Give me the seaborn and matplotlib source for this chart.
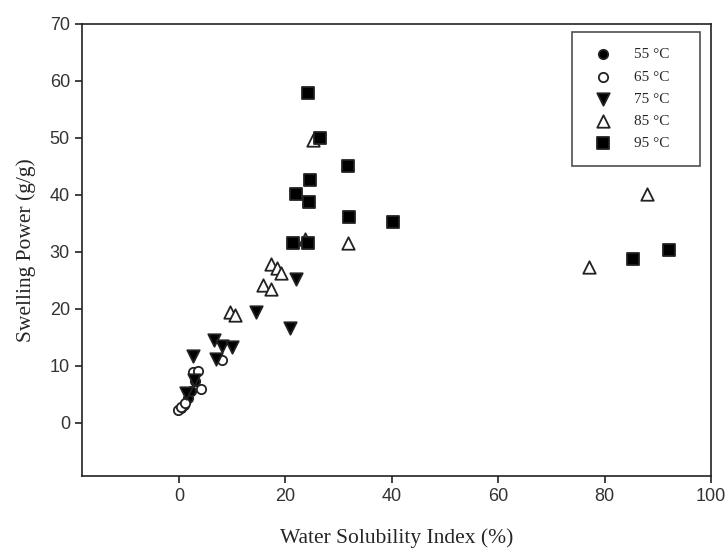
import matplotlib
matplotlib.use("Agg")
import matplotlib.pyplot as plt
import seaborn as sns

# valores (Water Solubility Index %, Swelling Power g/g)
x55 = [0.4, 1.0, 1.6, 2.3, 3.0]
y55 = [2.5, 3.2, 4.3, 5.6, 7.4]

x65 = [-0.2, 0.45, 1.1, 2.6, 3.6, 4.2, 8.0]
y65 = [2.2, 2.8, 3.5, 8.9, 9.1, 6.0, 11.0]

x75 = [1.4, 2.9, 2.7, 6.6, 8.0, 9.9, 7.0, 14.5, 20.8, 22.0]
y75 = [5.3, 7.5, 11.7, 14.5, 13.4, 13.3, 11.2, 19.5, 16.6, 25.3]

x85 = [9.5, 10.5, 15.7, 17.2, 17.3, 18.4, 19.2, 23.7, 25.2, 31.7, 77.0, 88.0]
y85 = [19.5, 18.9, 24.2, 23.4, 27.8, 27.1, 26.3, 32.2, 49.7, 31.6, 27.3, 40.1]

x95 = [24.2, 26.5, 31.7, 24.7, 22.0, 24.4, 31.9, 40.2, 21.4, 24.2, 85.4, 92.1]
y95 = [57.8, 49.9, 45.1, 42.6, 40.2, 38.7, 36.1, 35.2, 31.6, 31.5, 28.7, 30.4]

labels = ['55 °C', '65 °C', '75 °C', '85 °C', '95 °C']

sns.set_style('ticks')
serif = ['Liberation Serif', 'DejaVu Serif']
sans = ['Liberation Sans', 'DejaVu Sans']

fig = plt.figure(figsize=(7.28, 5.49), dpi=100)
ax = fig.add_axes([0.1122, 0.1335, 0.8645, 0.8228])

series = [
    (x55, y55, 'o', 45, 'black'),
    (x65, y65, 'o', 45, 'white'),
    (x75, y75, 'v', 80, 'black'),
    (x85, y85, '^', 80, 'white'),
    (x95, y95, 's', 75, 'black'),
]
# espacios al final para ensanchar la caja de la leyenda como en el original
for (xs, ys, m, s, fc), lab in zip(series, labels):
    sns.scatterplot(x=xs, y=ys, marker=m, s=s, color=fc, edgecolor='#222222',
                    linewidth=1.3, label=lab + '    ', ax=ax, zorder=3)

ax.set_xlim(-18.3, 100)
ax.set_ylim(-9.3, 70)
ax.set_xticks(range(0, 101, 20))
ax.set_yticks(range(0, 71, 10))
for sp in ax.spines.values():
    sp.set_visible(True)
    sp.set_linewidth(1.2)
    sp.set_color('#222222')
ax.tick_params(direction='out', length=5, width=1.2, color='#222222',
               top=False, right=False)
for t in ax.get_xticklabels() + ax.get_yticklabels():
    t.set_family(sans)
    t.set_fontsize(13)
    t.set_color('#333333')

ax.set_xlabel('Water Solubility Index (%)', family=serif, fontsize=15.5, labelpad=17)
ax.set_ylabel('Swelling Power (g/g)', family=serif, fontsize=15.5, labelpad=10)

leg = ax.legend(loc='upper left', bbox_to_anchor=(0.7786, 0.9816),
                borderaxespad=0, frameon=True, fancybox=False,
                prop={'family': serif, 'size': 11}, labelspacing=0.56,
                handletextpad=1.0, borderpad=1.0, handlelength=2.06)
leg.get_frame().set_edgecolor('#222222')
leg.get_frame().set_linewidth(1.2)

fig.savefig('out.png', dpi=100)
